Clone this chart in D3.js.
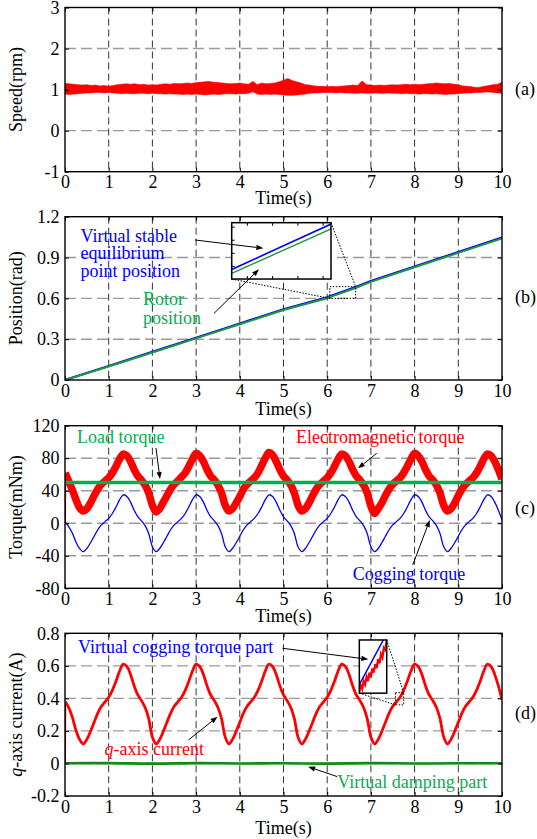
<!DOCTYPE html>
<html><head><meta charset="utf-8">
<script src="https://cdn.jsdelivr.net/npm/d3@7"></script>
<style>
body{margin:0;background:#fff;}
svg{display:block;background:#fff;}
text{font-family:"Liberation Serif","Times New Roman",serif;}
</style>
</head><body>
<svg id="c" width="537" height="839"></svg>
<script>
// ---------- tick values ----------
const timeTicks = [0,1,2,3,4,5,6,7,8,9,10];
const speedTicks = [-1,0,1,2,3];
const posTicks = [0,0.3,0.6,0.9,1.2];
const torqueTicks = [-80,-40,0,40,80,120];
const currentTicks = [-0.2,0,0.2,0.4,0.6,0.8];

// ---------- (a) speed band ----------
const speedTime = [0,0.1,0.2,0.3,0.4,0.5,0.6,0.7,0.8,0.9,1,
1.1,1.2,1.3,1.4,1.5,1.6,1.7,1.8,1.9,2,
2.1,2.2,2.3,2.4,2.5,2.6,2.7,2.8,2.9,3,
3.1,3.2,3.3,3.4,3.5,3.6,3.7,3.8,3.9,4,
4.1,4.2,4.3,4.4,4.5,4.6,4.7,4.8,4.9,5,
5.1,5.2,5.3,5.4,5.5,5.6,5.7,5.8,5.9,6,
6.1,6.2,6.3,6.4,6.5,6.6,6.7,6.8,6.9,7,
7.1,7.2,7.3,7.4,7.5,7.6,7.7,7.8,7.9,8,
8.1,8.2,8.3,8.4,8.5,8.6,8.7,8.8,8.9,9,
9.1,9.2,9.3,9.4,9.5,9.6,9.7,9.8,9.9,10];
const speedUpper = [1.15,1.14,1.13,1.12,1.11,1.12,1.10,1.11,1.09,1.10,1.08,
1.10,1.12,1.13,1.14,1.13,1.14,1.12,1.13,1.11,1.12,
1.11,1.13,1.14,1.13,1.15,1.14,1.15,1.16,1.15,1.17,
1.18,1.19,1.20,1.18,1.17,1.16,1.15,1.14,1.15,1.16,
1.14,1.13,1.20,1.12,1.16,1.14,1.15,1.16,1.19,1.23,
1.27,1.22,1.19,1.16,1.12,1.11,1.09,1.08,1.08,1.07,
1.08,1.07,1.08,1.09,1.10,1.11,1.10,1.21,1.12,1.11,
1.10,1.11,1.10,1.11,1.12,1.11,1.12,1.13,1.12,1.13,
1.12,1.13,1.14,1.15,1.16,1.15,1.14,1.15,1.13,1.12,
1.09,1.08,1.07,1.05,1.06,1.08,1.10,1.12,1.13,1.18,1.12];
const speedLower = [0.89,0.88,0.89,0.90,0.91,0.92,0.92,0.93,0.93,0.92,0.93,
0.92,0.91,0.90,0.91,0.90,0.90,0.91,0.91,0.90,0.91,
0.90,0.90,0.89,0.90,0.89,0.89,0.88,0.89,0.88,0.89,
0.88,0.87,0.88,0.89,0.88,0.89,0.90,0.90,0.89,0.90,
0.90,0.91,0.95,0.89,0.88,0.89,0.88,0.89,0.88,0.87,
0.86,0.86,0.87,0.88,0.89,0.91,0.92,0.92,0.93,0.93,
0.93,0.92,0.93,0.92,0.92,0.91,0.91,0.92,0.91,0.91,
0.92,0.91,0.91,0.92,0.91,0.91,0.90,0.91,0.90,0.90,
0.89,0.90,0.90,0.89,0.90,0.89,0.88,0.89,0.89,0.90,
0.91,0.92,0.92,0.93,0.93,0.94,0.94,0.93,0.92,0.91,0.89];

// ---------- (b) positions ----------
const posTime = [0,1,2,3,4,5,6,6.06,6.65,7,8,9,10];
const virtualPos = [0,0.103,0.207,0.311,0.415,0.519,0.607,0.6146,0.684,0.728,0.834,0.94,1.046];
const rotorPos = [0,0.099,0.202,0.306,0.41,0.514,0.601,0.6086,0.6765,0.721,0.828,0.934,1.04];

// ---------- (c)/(d) shared time ----------
const waveTime = [0,0.005,0.083,0.167,0.25,0.333,0.417,0.5,0.583,0.667,0.75,0.833,0.917,1,
1.083,1.167,1.25,1.333,1.417,1.5,1.583,1.667,1.75,1.833,1.917,2,
2.083,2.167,2.25,2.333,2.417,2.5,2.583,2.667,2.75,2.833,2.917,3,
3.083,3.167,3.25,3.333,3.417,3.5,3.583,3.667,3.75,3.833,3.917,4,
4.083,4.167,4.25,4.333,4.417,4.5,4.583,4.667,4.75,4.833,4.917,5,
5.083,5.167,5.25,5.333,5.417,5.5,5.583,5.667,5.75,5.833,5.917,6,
6.083,6.167,6.25,6.333,6.417,6.5,6.583,6.667,6.75,6.833,6.917,7,
7.083,7.167,7.25,7.333,7.417,7.5,7.583,7.667,7.75,7.833,7.917,8,
8.083,8.167,8.25,8.333,8.417,8.5,8.583,8.667,8.75,8.833,8.917,9,
9.083,9.167,9.25,9.333,9.417,9.5,9.583,9.667,9.75,9.833,9.917,10];

const coggingTorque = [1,1,-4,-12,-23,-31,
-35,-31,-24,-16,-8,-2,2,6,12,20,29,35,33,26,16,8,3,-3,-13,-29,
-35,-31,-24,-16,-8,-2,2,6,12,20,29,35,33,26,16,8,3,-3,-13,-29,
-35,-31,-24,-16,-8,-2,2,6,12,20,29,35,33,26,16,8,3,-3,-13,-29,
-35,-31,-24,-16,-8,-2,2,6,12,20,29,35,33,26,16,8,3,-3,-13,-29,
-35,-31,-24,-16,-8,-2,2,6,12,20,29,35,33,26,16,8,3,-3,-13,-29,
-35,-31,-24,-16,-8,-2,2,6,12,20,29,35,33,26,16,4];

const emTorque = [0,62,52,41,29,19,
15,18,25,34,42,48,52,56,62,70,79,85,83,76,66,58,53,47,37,22,
14,18,26,34,42,48,52,57,62,70,79,86,83,76,66,58,53,47,37,22,
15,18,25,33,42,48,52,56,62,71,80,87,84,76,66,58,53,47,37,22,
15,18,25,34,42,48,52,56,62,70,79,85,83,76,66,58,53,47,37,21,
12,18,25,34,42,48,52,56,62,70,79,86,83,76,66,58,53,47,37,22,
15,18,25,34,42,48,52,56,62,70,79,85,83,76,66,54];

const loadTime = [0,10];
const loadTorque = [50,50];

const qCurrent = [0,0.38,0.345,0.285,0.204,0.148,
0.12,0.148,0.197,0.253,0.309,0.351,0.379,0.407,0.449,0.505,0.568,0.61,0.596,0.547,0.477,0.421,0.386,0.344,0.274,0.162,
0.12,0.148,0.197,0.253,0.309,0.351,0.379,0.407,0.449,0.505,0.568,0.61,0.596,0.547,0.477,0.421,0.386,0.344,0.274,0.162,
0.12,0.148,0.197,0.253,0.309,0.351,0.379,0.407,0.449,0.505,0.568,0.61,0.596,0.547,0.477,0.421,0.386,0.344,0.274,0.162,
0.12,0.148,0.197,0.253,0.309,0.351,0.379,0.407,0.449,0.505,0.568,0.61,0.596,0.547,0.477,0.421,0.386,0.344,0.274,0.162,
0.12,0.148,0.197,0.253,0.309,0.351,0.379,0.407,0.449,0.505,0.568,0.61,0.596,0.547,0.477,0.421,0.386,0.344,0.274,0.162,
0.12,0.148,0.197,0.253,0.309,0.351,0.379,0.407,0.449,0.505,0.568,0.61,0.596,0.547,0.477,0.393];

const dampTime = [0,1,2,3,4,5,6,7,8,9,10];
const virtualDamping = [0.001,0.002,-0.001,0.002,0.000,0.001,-0.001,0.002,0.000,0.001,0.001];

// (d) inset zoomed data
const insetDTime = [7.56,7.57,7.58,7.59,7.60,7.61,7.62,7.63,7.64,7.65,7.66,7.67,7.68,7.69,7.70,7.71,7.72,7.73,7.74,7.75];
const insetDCurrent = [0.362,0.371,0.366,0.377,0.372,0.383,0.377,0.389,0.382,0.395,0.389,0.401,0.395,0.408,0.402,0.415,0.410,0.424,0.421,0.435];
const insetDVirtTime = [7.56,7.75];
const insetDVirtual = [0.372,0.444];

// ---------- colours ----------
const RED="#ff0000", DARKRED="#b00000", BLUE="#0000ff", GREEN="#00b050", DGREEN="#1f9a3c", DMPGREEN="#138a13";
const FONT = "Liberation Serif, Times New Roman, serif";

const svg = d3.select("#c");
const defs = svg.append("defs");
const x = d3.scaleLinear([0,10],[65,502]);

function drawPanel(cfg){
  const y = d3.scaleLinear(cfg.domain,[cfg.bottom,cfg.top]);
  const g = svg.append("g");
  defs.append("clipPath").attr("id","clip"+cfg.key).append("rect")
    .attr("x",x(0)).attr("y",cfg.top).attr("width",x(10)-x(0)).attr("height",cfg.bottom-cfg.top);
  g.append("g").selectAll("line").data(timeTicks.slice(1,-1)).join("line")
    .attr("x1",d=>x(d)).attr("x2",d=>x(d)).attr("y1",cfg.top).attr("y2",cfg.bottom)
    .attr("stroke","#333").attr("stroke-width",1).attr("stroke-dasharray","7,4");
  g.append("g").selectAll("line").data(cfg.ticks.slice(1,-1)).join("line")
    .attr("x1",x(0)).attr("x2",x(10)).attr("y1",d=>y(d)).attr("y2",d=>y(d))
    .attr("stroke","#9a9a9a").attr("stroke-width",1.4).attr("stroke-dasharray","11,5");
  const plot = g.append("g").attr("clip-path",`url(#clip${cfg.key})`);
  const ax = (sel)=>{ sel.attr("font-size",18).attr("font-family",FONT); sel.select(".domain").remove(); sel.selectAll("text").attr("fill","#000"); };
  const axesG = svg.append("g");
  axesG.append("g").attr("transform",`translate(0,${cfg.bottom})`)
    .call(d3.axisBottom(x).tickValues(timeTicks).tickFormat(d=>String(d)).tickSizeInner(-4).tickSizeOuter(0).tickPadding(4)).call(ax);
  axesG.append("g").attr("transform",`translate(0,${cfg.top})`)
    .call(d3.axisTop(x).tickValues(timeTicks).tickFormat(()=>"").tickSizeInner(-4).tickSizeOuter(0)).call(ax);
  axesG.append("g").attr("transform",`translate(${x(0)},0)`)
    .call(d3.axisLeft(y).tickValues(cfg.ticks).tickFormat(d=>String(d)).tickSizeInner(-4).tickSizeOuter(0).tickPadding(5.5)).call(ax);
  axesG.append("g").attr("transform",`translate(${x(10)},0)`)
    .call(d3.axisRight(y).tickValues(cfg.ticks).tickFormat(()=>"").tickSizeInner(-4).tickSizeOuter(0)).call(ax);
  axesG.append("rect").attr("x",x(0)).attr("y",cfg.top).attr("width",x(10)-x(0)).attr("height",cfg.bottom-cfg.top)
    .attr("fill","none").attr("stroke","#000").attr("stroke-width",1.4);
  axesG.append("text").attr("x",(x(0)+x(10))/2).attr("y",cfg.bottom+cfg.timeDy)
    .attr("text-anchor","middle").attr("font-size",18).text("Time(s)");
  const yl = axesG.append("text").attr("transform",`translate(22,${(cfg.top+cfg.bottom)/2}) rotate(-90)`)
    .attr("text-anchor","middle").attr("font-size",18);
  if(cfg.italicPrefix){ yl.append("tspan").attr("font-style","italic").text(cfg.italicPrefix); }
  yl.append("tspan").text(cfg.ylabel);
  axesG.append("text").attr("x",cfg.tagX).attr("y",cfg.tagY).attr("font-size",18).text(cfg.tag);
  return {y, g, plot, axesG};
}

function arrow(parent, x1,y1,x2,y2){
  const ang = Math.atan2(y2-y1,x2-x1), L=7, Wd=2.6;
  const bx = x2 - L*Math.cos(ang), by = y2 - L*Math.sin(ang);
  parent.append("line").attr("x1",x1).attr("y1",y1).attr("x2",bx).attr("y2",by).attr("stroke","#000").attr("stroke-width",1);
  const p1=[x2,y2], p2=[bx+Wd*Math.sin(ang), by-Wd*Math.cos(ang)], p3=[bx-Wd*Math.sin(ang), by+Wd*Math.cos(ang)];
  parent.append("path").attr("d",`M${p1}L${p2}L${p3}Z`).attr("fill","#000");
}
function label(parent, t, v, y, txt, color){
  return parent.append("text").attr("x",x(t)).attr("y",y(v)).attr("font-size",18).attr("fill",color).text(txt);
}
function dotted(G, x1,y1,x2,y2){
  G.append("line").attr("x1",x1).attr("y1",y1).attr("x2",x2).attr("y2",y2)
    .attr("stroke","#000").attr("stroke-width",1).attr("stroke-dasharray","1.5,1.5");
}

// ================= (a) =================
const A = drawPanel({key:"a",top:7.5,bottom:171.7,domain:[-1,3],ticks:speedTicks,ylabel:"Speed(rpm)",tag:"(a)",tagX:515,tagY:95,timeDy:32});
A.plot.append("path").datum(speedTime.map((t,i)=>[t,speedLower[i],speedUpper[i]]))
  .attr("d",d3.area().x(d=>x(d[0])).y0(d=>A.y(d[1])).y1(d=>A.y(d[2])))
  .attr("fill",RED).attr("stroke",RED).attr("stroke-width",0.6);

// ================= (b) =================
const B = drawPanel({key:"b",top:216.7,bottom:380,domain:[0,1.2],ticks:posTicks,ylabel:"Position(rad)",tag:"(b)",tagX:515,tagY:303,timeDy:35});
const lineB = (arr)=>d3.line().x((d,i)=>x(posTime[i])).y(d=>B.y(d))(arr);
B.plot.append("path").attr("d",lineB(virtualPos)).attr("fill","none").attr("stroke",BLUE).attr("stroke-width",2.2);
B.plot.append("path").attr("d",lineB(rotorPos)).attr("fill","none").attr("stroke",DGREEN).attr("stroke-width",2);
{
  const src={t0:6.06,t1:6.65,v0:0.60,v1:0.686}, box={t0:3.815,t1:6.087,v0:0.742,v1:1.156};
  const ix=d3.scaleLinear([src.t0,src.t1],[x(box.t0),x(box.t1)]);
  const iy=d3.scaleLinear([src.v0,src.v1],[B.y(box.v0),B.y(box.v1)]);
  const G=B.axesG;
  G.append("rect").attr("x",x(src.t0)).attr("y",B.y(src.v1)).attr("width",x(src.t1)-x(src.t0)).attr("height",B.y(src.v0)-B.y(src.v1))
    .attr("fill","none").attr("stroke","#000").attr("stroke-width",1).attr("stroke-dasharray","1.5,1.5");
  dotted(G,x(box.t1),B.y(box.v1),x(src.t1),B.y(src.v1));
  dotted(G,x(box.t0),B.y(box.v0),x(src.t0),B.y(src.v0));
  G.append("rect").attr("x",x(box.t0)).attr("y",B.y(box.v1)).attr("width",x(box.t1)-x(box.t0)).attr("height",B.y(box.v0)-B.y(box.v1)).attr("fill","#fff");
  defs.append("clipPath").attr("id","clipInsetB").append("rect").attr("x",x(box.t0)).attr("y",B.y(box.v1)).attr("width",x(box.t1)-x(box.t0)).attr("height",B.y(box.v0)-B.y(box.v1));
  const ip=G.append("g").attr("clip-path","url(#clipInsetB)");
  const il=(arr)=>d3.line().x((d,i)=>ix(posTime[i])).y(d=>iy(d))(arr);
  ip.append("path").attr("d",il(virtualPos)).attr("fill","none").attr("stroke",BLUE).attr("stroke-width",1.6);
  ip.append("path").attr("d",il(rotorPos)).attr("fill","none").attr("stroke",DGREEN).attr("stroke-width",1.4);
  const tx=(s)=>{s.select(".domain").remove();};
  G.append("g").attr("transform",`translate(0,${B.y(box.v0)})`).call(d3.axisBottom(ix).tickValues([6.15,6.3,6.45,6.6]).tickFormat(()=>"").tickSizeInner(-3).tickSizeOuter(0)).call(tx);
  G.append("g").attr("transform",`translate(0,${B.y(box.v1)})`).call(d3.axisTop(ix).tickValues([6.15,6.3,6.45,6.6]).tickFormat(()=>"").tickSizeInner(-3).tickSizeOuter(0)).call(tx);
  G.append("g").attr("transform",`translate(${x(box.t0)},0)`).call(d3.axisLeft(iy).tickValues([0.62,0.64,0.66,0.68]).tickFormat(()=>"").tickSizeInner(-3).tickSizeOuter(0)).call(tx);
  G.append("rect").attr("x",x(box.t0)).attr("y",B.y(box.v1)).attr("width",x(box.t1)-x(box.t0)).attr("height",B.y(box.v0)-B.y(box.v1))
    .attr("fill","none").attr("stroke","#000").attr("stroke-width",1.5);
}
label(B.axesG,0.355,1.016,B.y,"Virtual stable",BLUE);
label(B.axesG,0.355,0.886,B.y,"equilibrium",BLUE);
label(B.axesG,0.355,0.755,B.y,"point position",BLUE);
label(B.axesG,1.785,0.551,B.y,"Rotor",GREEN);
label(B.axesG,1.785,0.4115,B.y,"position",GREEN);
arrow(B.axesG,x(2.975),B.y(1.029),x(4.538),B.y(0.968));
arrow(B.axesG,x(3.41),B.y(0.49),x(4.439),B.y(0.8135));

// ================= (c) =================
const C = drawPanel({key:"c",top:425.7,bottom:588.3,domain:[-80,120],ticks:torqueTicks,ylabel:"Torque(mNm)",tag:"(c)",tagX:515,tagY:514,timeDy:34});
const curve = d3.curveCatmullRom.alpha(0.5);
const lineC = d3.line().x(d=>x(d[0])).y(d=>C.y(d[1])).curve(curve);
const cogPts = waveTime.map((t,i)=>[t,coggingTorque[i]]);
const emPts = waveTime.map((t,i)=>[t,emTorque[i]]);
C.plot.append("path").attr("d",lineC(cogPts)).attr("fill","none").attr("stroke",BLUE).attr("stroke-width",1.3);
C.plot.append("path").attr("d",d3.line().x(d=>x(d[0])).y(d=>C.y(d[1]))(emPts.slice(0,2))).attr("fill","none").attr("stroke",DARKRED).attr("stroke-width",2);
C.plot.append("path").attr("d",lineC(emPts.slice(1))).attr("fill","none").attr("stroke",RED).attr("stroke-width",7.5).attr("stroke-linejoin","round");
C.plot.append("path").attr("d",d3.line().x((d,i)=>x(loadTime[i])).y(d=>C.y(d))(loadTorque)).attr("fill","none").attr("stroke",GREEN).attr("stroke-width",3.5);
label(C.axesG,0.275,98.35,C.y,"Load torque",GREEN);
label(C.axesG,5.286,98.35,C.y,"Electromagnetic torque",RED);
label(C.axesG,6.584,-69.8,C.y,"Cogging torque",BLUE);
arrow(C.axesG,x(2.082),C.y(92.6),x(2.174),C.y(54.4));
arrow(C.axesG,x(7.133),C.y(86.05),x(6.705),C.y(67.6));
arrow(C.axesG,x(7.957),C.y(-51.3),x(8.348),C.y(4.0));

// ================= (d) =================
const D = drawPanel({key:"d",top:633.3,bottom:796,domain:[-0.2,0.8],ticks:currentTicks,ylabel:"-axis current(A)",italicPrefix:"q",tag:"(d)",tagX:515,tagY:719,timeDy:38});
const lineD = d3.line().x(d=>x(d[0])).y(d=>D.y(d[1])).curve(curve);
const iqPts = waveTime.map((t,i)=>[t,qCurrent[i]]);
D.plot.append("path").attr("d",lineD(dampTime.map((t,i)=>[t,virtualDamping[i]]))).attr("fill","none").attr("stroke",DMPGREEN).attr("stroke-width",2.6);
D.plot.append("path").attr("d",d3.line().x(d=>x(d[0])).y(d=>D.y(d[1]))(iqPts.slice(0,2))).attr("fill","none").attr("stroke",DARKRED).attr("stroke-width",2);
D.plot.append("path").attr("d",lineD(iqPts.slice(1))).attr("fill","none").attr("stroke",RED).attr("stroke-width",2.8);
{
  const src={t0:7.56,t1:7.75,v0:0.36,v1:0.435}, box={t0:6.735,t1:7.362,v0:0.432,v1:0.759};
  const ix=d3.scaleLinear([src.t0,src.t1],[x(box.t0),x(box.t1)]);
  const iy=d3.scaleLinear([src.v0,src.v1],[D.y(box.v0),D.y(box.v1)]);
  const G=D.axesG;
  G.append("rect").attr("x",x(src.t0)).attr("y",D.y(src.v1)).attr("width",x(src.t1)-x(src.t0)).attr("height",D.y(src.v0)-D.y(src.v1))
    .attr("fill","none").attr("stroke","#000").attr("stroke-width",1).attr("stroke-dasharray","1.5,1.5");
  dotted(G,x(box.t1),D.y(box.v1),x(src.t1),D.y(src.v1));
  dotted(G,x(box.t0),D.y(box.v0),x(src.t0),D.y(src.v0));
  G.append("rect").attr("x",x(box.t0)).attr("y",D.y(box.v1)).attr("width",x(box.t1)-x(box.t0)).attr("height",D.y(box.v0)-D.y(box.v1)).attr("fill","#fff");
  defs.append("clipPath").attr("id","clipInsetD").append("rect").attr("x",x(box.t0)).attr("y",D.y(box.v1)).attr("width",x(box.t1)-x(box.t0)).attr("height",D.y(box.v0)-D.y(box.v1));
  const ip=G.append("g").attr("clip-path","url(#clipInsetD)");
  ip.append("path").attr("d",d3.line().x((d,i)=>ix(insetDTime[i])).y(d=>iy(d))(insetDCurrent)).attr("fill","none").attr("stroke",RED).attr("stroke-width",2.2);
  ip.append("path").attr("d",d3.line().x((d,i)=>ix(insetDVirtTime[i])).y(d=>iy(d))(insetDVirtual)).attr("fill","none").attr("stroke",BLUE).attr("stroke-width",1.5);
  G.append("rect").attr("x",x(box.t0)).attr("y",D.y(box.v1)).attr("width",x(box.t1)-x(box.t0)).attr("height",D.y(box.v0)-D.y(box.v1))
    .attr("fill","none").attr("stroke","#000").attr("stroke-width",1.5);
}
label(D.axesG,0.297,0.677,D.y,"Virtual cogging torque part",BLUE);
{
  const q = D.axesG.append("text").attr("x",x(0.904)).attr("y",D.y(0.052)).attr("font-size",18).attr("fill",RED);
  q.append("tspan").attr("font-style","italic").text("q");
  q.append("tspan").text("-axis current");
}
label(D.axesG,6.231,-0.153,D.y,"Virtual damping part",GREEN);
arrow(D.axesG,x(4.977),D.y(0.708),x(6.941),D.y(0.640));
arrow(D.axesG,x(2.824),D.y(0.144),x(3.49),D.y(0.287));
arrow(D.axesG,x(6.231),D.y(-0.081),x(5.565),D.y(-0.020));
</script>
</body></html>
